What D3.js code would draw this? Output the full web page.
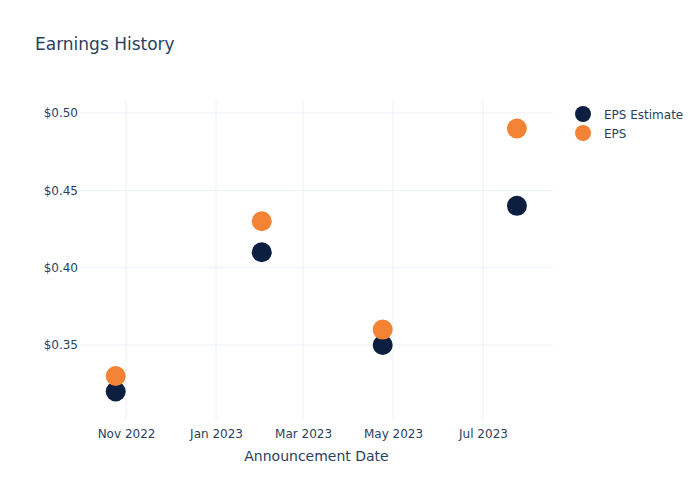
<!DOCTYPE html>
<html><head><meta charset="utf-8">
<script src="https://cdn.jsdelivr.net/npm/d3@7"></script>
<style>body{margin:0;background:#fff}svg{display:block;font-family:"DejaVu Sans",sans-serif}</style>
</head><body>
<svg id="c" width="700" height="500"></svg>
<script>
const dates = ["2022-10-25","2023-02-01","2023-04-24","2023-07-24"];
const epsEstimate = [0.32, 0.41, 0.35, 0.44];
const eps = [0.33, 0.43, 0.36, 0.49];
const seriesNames = ["EPS Estimate", "EPS"];
const seriesColors = ["#0c1f41", "#f58335"];
const xTickDates = ["2022-11-01","2023-01-01","2023-03-01","2023-05-01","2023-07-01"];
const yTicks = [0.35, 0.40, 0.45, 0.50];

const FONT = '"DejaVu Sans",sans-serif';
const parse = d3.utcParse("%Y-%m-%d");
const svg = d3.select("#c");
const L = 80, R = 553, T = 100, B = 420;
const x = d3.scaleUtc()
  .domain([new Date(Date.UTC(2022,8,30,19)), new Date(Date.UTC(2023,7,17,11))])
  .range([L, R]);
const y = d3.scaleLinear().domain([0.30155, 0.5084]).range([B, T]);
const txt = "#2a3f5f", grid = "#ebf0f8";

// grid
svg.append("g").selectAll("line").data(xTickDates).join("line")
  .attr("x1", d => x(parse(d))).attr("x2", d => x(parse(d)))
  .attr("y1", T).attr("y2", B).attr("stroke", grid).attr("stroke-width", 1);
svg.append("g").selectAll("line").data(yTicks).join("line")
  .attr("x1", L).attr("x2", R).attr("y1", d => y(d)).attr("y2", d => y(d))
  .attr("stroke", grid).attr("stroke-width", 1);

// axes via d3 axis
const xAxis = d3.axisBottom(x).tickValues(xTickDates.map(parse))
  .tickFormat(d3.utcFormat("%b %Y")).tickSize(0).tickPadding(9);
const gx = svg.append("g").attr("transform", `translate(0,${B})`).call(xAxis);
gx.select(".domain").remove();
gx.selectAll("text").attr("fill", txt).attr("font-size", 12).attr("font-family", FONT);

const yAxis = d3.axisLeft(y).tickValues(yTicks).tickFormat(d => "$" + d3.format(".2f")(d))
  .tickSize(0).tickPadding(2);
const gy = svg.append("g").attr("transform", `translate(${L},0)`).call(yAxis);
gy.select(".domain").remove();
gy.selectAll("text").attr("fill", txt).attr("font-size", 12).attr("font-family", FONT);

// points
const series = [epsEstimate, eps];
series.forEach((vals, i) => {
  svg.append("g").selectAll("circle").data(vals).join("circle")
    .attr("cx", (d, j) => x(parse(dates[j])))
    .attr("cy", d => y(d))
    .attr("r", 10)
    .attr("fill", seriesColors[i]);
});

// title
svg.append("text").attr("x", 35).attr("y", 50).attr("fill", txt)
  .attr("font-size", 17).text("Earnings History");
svg.append("text").attr("x", (L + R) / 2).attr("y", 461).attr("text-anchor", "middle")
  .attr("fill", txt).attr("font-size", 14).text("Announcement Date");

// legend
const lg = svg.append("g");
seriesNames.forEach((n, i) => {
  lg.append("circle").attr("cx", 583).attr("cy", 114 + i * 19).attr("r", 8).attr("fill", seriesColors[i]);
  lg.append("text").attr("x", 604).attr("y", 114 + i * 19 + 4.5).attr("fill", txt)
    .attr("font-size", 12).text(n);
});
</script>
</body></html>
